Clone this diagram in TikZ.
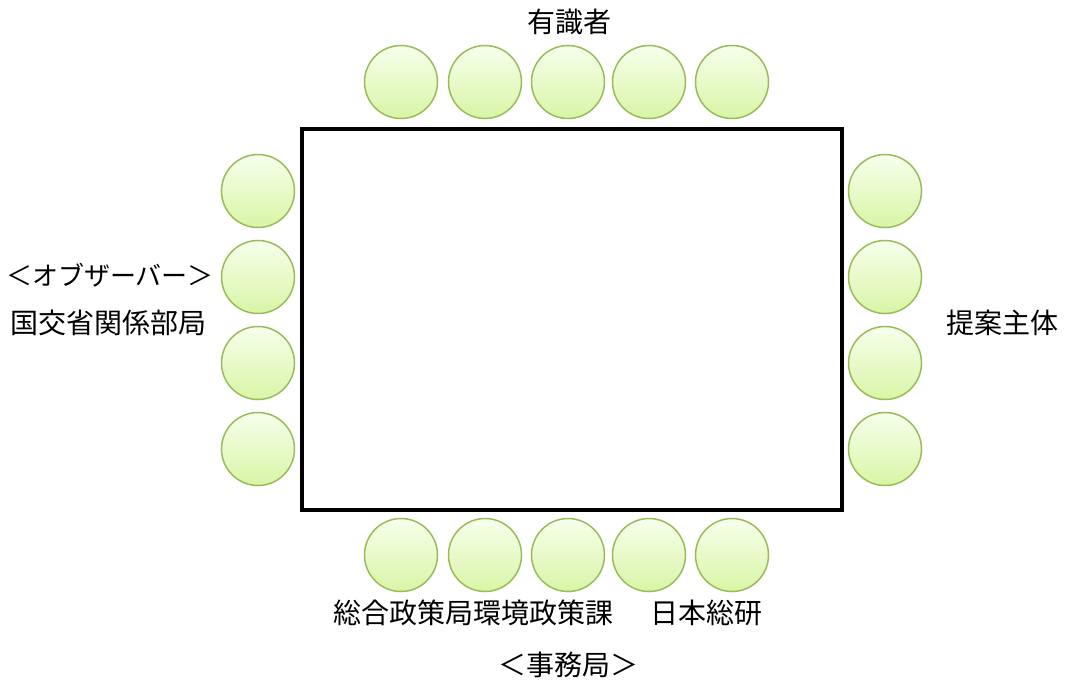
\documentclass[tikz,border=0pt]{standalone}
\usepackage{fontspec}
\setmainfont{Noto Sans CJK JP}
\definecolor{seatline}{HTML}{9BBB59}
\definecolor{seattop}{HTML}{F7FFEC}
\definecolor{seatbot}{HTML}{D8F5A6}
\tikzset{
  seat/.style={circle, draw=seatline, line width=1.5pt, minimum size=73pt, inner sep=0pt,
    top color=seattop, bottom color=seatbot},
  lbl/.style={font=\fontsize{28}{32}\selectfont, inner sep=0pt, anchor=center}
}
\begin{document}
\begin{tikzpicture}[x=1pt,y=-1pt]
\useasboundingbox (0,0) rectangle (1067,686);
\node[draw=black, line width=3.2pt, minimum width=540pt, minimum height=381pt, inner sep=0pt] (table) at (572,319.5) {};
\foreach \x [count=\i] in {401,485,568,649,732}{
  \node[seat] (t\i) at (\x,82) {};
  \node[seat] (b\i) at (\x,555) {};
}
\foreach \y [count=\i] in {191,277,363,449}{
  \node[seat] (l\i) at (258,\y) {};
  \node[seat] (r\i) at (885,\y) {};
}
\node[lbl] (top) at (569,22) {有識者};
\node[lbl, font=\fontsize{26}{30}\selectfont] (obs) at (110,275) {＜オブザーバー＞};
\node[lbl] (mlit) at (108,323) {国交省関係部局};
\node[lbl] (prop) at (1002,323) {提案主体};
\node[lbl] (city) at (473,613) {総合政策局環境政策課};
\node[lbl] (jri) at (706,613) {日本総研};
\node[lbl] (sec) at (568,665) {＜事務局＞};
\end{tikzpicture}
\end{document}
